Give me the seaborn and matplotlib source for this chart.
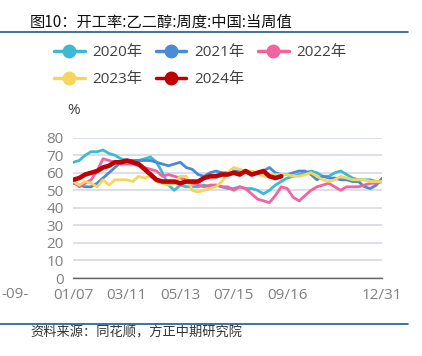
import numpy as np
import pandas as pd
import matplotlib
matplotlib.use("Agg")
import matplotlib.pyplot as plt
from matplotlib.lines import Line2D
import seaborn as sns

# ---------------- data ----------------
tick_labels = ["01/07", "03/11", "05/13", "07/15", "09/16", "", "12/31"]
tick_index = [0, 9, 18, 27, 36, 45, 52]
years = ["2020年", "2021年", "2022年", "2023年", "2024年"]

v2020 = [66, 67, 70, 72, 72, 73, 71, 70, 68, 67, 67, 67, 68, 69, 66, 60, 53, 50, 53, 52,
         52, 52, 53, 52, 53, 52, 51, 51, 52, 51, 51, 50, 48, 50, 53, 55, 57, 58, 59, 60,
         61, 60, 58, 58, 60, 61, 59, 57, 56, 56, 56, 55, 55]
v2021 = [54, 53, 52, 52, 54, 57, 60, 63, 66, 67, 67, 67, 67, 67, 66, 65, 64, 65, 66, 63,
         62, 59, 58, 60, 61, 60, 60, 61, 61, 60, 60, 60, 61, 63, 60, 59, 59, 60, 61, 61,
         59, 56, 58, 57, 57, 56, 56, 55, 55, 52, 51, 53, 57]
v2022 = [55, 52, 54, 56, 61, 68, 67, 66, 65, 65, 65, 64, 63, 62, 61, 58, 59, 58, 57, 56,
         54, 53, 52, 53, 53, 52, 52, 50, 52, 51, 48, 45, 44, 43, 47, 52, 51, 46, 44, 47,
         50, 52, 53, 54, 52, 50, 52, 52, 52, 53, 54, 54, 55]
v2023 = [55, 53, 55, 54, 52, 56, 53, 56, 56, 56, 55, 58, 57, 58, 55, 54, 53, 54, 58, 58,
         50, 49, 50, 51, 52, 55, 60, 63, 62, 61, 61, 60, 58, 58, 59, 59, 59, 58, 58, 59,
         60, 58, 56, 55, 56, 58, 57, 56, 56, 56, 55, 55, 55]
v2024 = [56, 57, 59, 60, 61, 63, 64, 66, 66, 67, 66, 65, 62, 59, 56, 55, 55, 55, 54, 55,
         55, 55, 57, 58, 58, 59, 59, 60, 59, 61, 59, 60, 61, 58, 57, 58]

series = [v2020, v2021, v2022, v2023, v2024]
colors = ["#3DB9D2", "#4A8AD6", "#F2639F", "#F5D55B", "#C00000"]
widths = [2.0, 2.0, 2.0, 2.0, 3.3]

rows = []
for y, vals in zip(years, series):
    for i, v in enumerate(vals):
        rows.append({"week": i, "value": v, "year": y})
df = pd.DataFrame(rows)

# ---------------- style ----------------
sns.set_style("white")
plt.rcParams["font.family"] = ["Open Sans", "Noto Sans CJK SC", "DejaVu Sans"]

fig = plt.figure(figsize=(4.22, 3.56), dpi=100)
ax = fig.add_axes([73.3 / 422, 78 / 356, (382.3 - 73.3) / 422, (278 - 137.7) / 356])

sns.lineplot(data=df, x="week", y="value", hue="year", hue_order=years,
             palette=dict(zip(years, colors)), ax=ax, legend=False,
             estimator=None, sort=False)
for line, lw in zip(ax.get_lines(), widths):
    line.set_linewidth(lw)
    line.set_solid_joinstyle("round")

ax.set_xlim(0, 52)
ax.set_ylim(0, 80)
ax.set_yticks(range(0, 81, 10))
ax.set_xticks(tick_index)
ax.set_xticklabels(tick_labels)
ax.set_xlabel("")
ax.set_ylabel("")
ax.grid(axis="y", color="#D9DCE6", linewidth=1.3)
ax.set_axisbelow(True)
for s in ["top", "right", "left"]:
    ax.spines[s].set_visible(False)
ax.spines["bottom"].set_color("#666666")
ax.spines["bottom"].set_linewidth(1.0)
ax.tick_params(axis="x", colors="#808080", labelsize=11, length=4, width=1,
               direction="out", pad=3)
ax.tick_params(axis="x", color="#666666")
ax.tick_params(axis="y", colors="#808080", labelsize=11, length=0, pad=7)
ax.text(0, 1.0 + 20 / 140.3, "%", transform=ax.transAxes, ha="center",
        va="bottom", fontsize=11, color="#404040")

# legend (row-major order: 2020 2021 2022 / 2023 2024)
order = [0, 3, 1, 4, 2]
handles = [Line2D([0], [0], color=colors[k], lw=2.5, marker="o", markersize=9,
                  markerfacecolor=colors[k], markeredgecolor=colors[k]) for k in order]
labels = [years[k] for k in order]
fig.legend(handles, labels, ncol=3, loc="upper left",
           bbox_to_anchor=(54 / 422, 1 - 45 / 356), frameon=False,
           fontsize=11, handlelength=2.0, handletextpad=0.5,
           columnspacing=0.9, labelspacing=0.8, labelcolor="#404040",
           borderaxespad=0, borderpad=0)

# title and rules
fig.text(30 / 422, 1 - 22 / 356, "图10：开工率:乙二醇:周度:中国:当周值",
         ha="left", va="center", fontsize=11, color="#111111",
         family=["Noto Sans CJK SC", "DejaVu Sans"], weight="medium")
fig.add_artist(Line2D([0, 408 / 422], [1 - 32 / 356, 1 - 32 / 356],
                      transform=fig.transFigure, color="#1F5B8E", lw=1.2))
fig.add_artist(Line2D([0, 408 / 422], [1 - 324 / 356, 1 - 324 / 356],
                      transform=fig.transFigure, color="#1F5B8E", lw=1.2))
fig.text(30 / 422, 1 - 333 / 356, "资料来源：同花顺，方正中期研究院",
         ha="left", va="center", fontsize=9.5, color="#333333",
         family=["Noto Sans CJK SC", "DejaVu Sans"])

# fragment of neighbouring chart at the left edge
fig.text(1 / 422, 1 - 295 / 356, "-09-", ha="left", va="center",
         fontsize=11, color="#808080")

fig.savefig("out.png", dpi=100)
